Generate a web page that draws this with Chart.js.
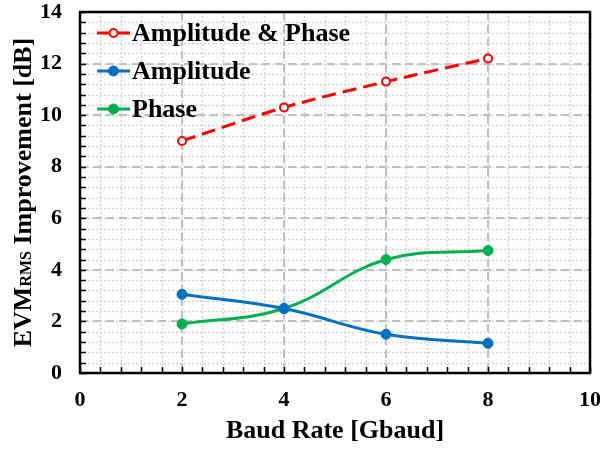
<!DOCTYPE html>
<html>
<head>
<meta charset="utf-8">
<script src="https://cdn.jsdelivr.net/npm/chart.js@4.4.1/dist/chart.umd.min.js"></script>
<style>
  html, body { margin: 0; padding: 0; background: #fff; }
  #wrap { width: 600px; height: 449px; }
</style>
</head>
<body>
<div id="wrap"><canvas id="chart" width="600" height="449"></canvas></div>
<script>
// data
const baudRates = [2, 4, 6, 8];
const ampPhase = [9.0, 10.3, 11.3, 12.2];
const amplitude = [3.05, 2.5, 1.5, 1.15];
const phase = [1.9, 2.5, 4.4, 4.75];
const seriesNames = ['Amplitude & Phase', 'Amplitude', 'Phase'];
const xRange = [0, 10];
const yRange = [0, 14];
const majorStep = 2;
const minorStep = 0.4;

const FONT = '"Liberation Serif", "Times New Roman", serif';

function pts(ys) {
  return baudRates.map((x, i) => ({ x: x, y: ys[i] }));
}

// minor dotted grid, under everything else
const minorGrid = {
  id: 'minorGrid',
  beforeDraw(chart) {
    const { ctx, chartArea: a, scales: { x, y } } = chart;
    ctx.save();
    ctx.strokeStyle = '#d4d4d4';
    ctx.lineWidth = 1.5;
    ctx.setLineDash([2, 2]);
    for (let v = xRange[0]; v <= xRange[1] + 1e-9; v += minorStep) {
      const px = Math.round(x.getPixelForValue(v)) + 0.5;
      ctx.beginPath(); ctx.moveTo(px, a.top); ctx.lineTo(px, a.bottom); ctx.stroke();
    }
    for (let v = yRange[0]; v <= yRange[1] + 1e-9; v += minorStep) {
      const py = Math.round(y.getPixelForValue(v)) + 0.5;
      ctx.beginPath(); ctx.moveTo(a.left, py); ctx.lineTo(a.right, py); ctx.stroke();
    }
    ctx.restore();
  }
};

// frame, inside tick marks, legend and the y title with subscript
const frameAndLegend = {
  id: 'frameAndLegend',
  afterDraw(chart) {
    const { ctx, chartArea: a, scales: { x, y } } = chart;
    ctx.save();
    ctx.strokeStyle = '#000';
    ctx.setLineDash([]);
    ctx.lineWidth = 1.5;
    for (let v = xRange[0]; v <= xRange[1] + 1e-9; v += minorStep) {
      const px = Math.round(x.getPixelForValue(v)) + 0.5;
      ctx.beginPath(); ctx.moveTo(px, a.bottom); ctx.lineTo(px, a.bottom - 6); ctx.stroke();
    }
    for (let v = yRange[0]; v <= yRange[1] + 1e-9; v += minorStep) {
      const py = Math.round(y.getPixelForValue(v)) + 0.5;
      ctx.beginPath(); ctx.moveTo(a.left, py); ctx.lineTo(a.left + 6, py); ctx.stroke();
    }
    ctx.lineWidth = 2.5;
    ctx.strokeRect(a.left, a.top, a.right - a.left, a.bottom - a.top);

    // legend inside the plot
    chart.data.datasets.forEach((ds, i) => {
      const cy = a.top + 21 + i * 38;
      const x0 = a.left + 17, x1 = a.left + 50;
      ctx.strokeStyle = ds.borderColor;
      ctx.lineWidth = ds.borderWidth;
      ctx.setLineDash(ds.borderDash || []);
      ctx.beginPath(); ctx.moveTo(x0, cy); ctx.lineTo(x1, cy); ctx.stroke();
      ctx.setLineDash([]);
      ctx.beginPath();
      ctx.arc((x0 + x1) / 2, cy, ds.pointRadius, 0, Math.PI * 2);
      ctx.fillStyle = ds.pointBackgroundColor;
      ctx.fill();
      ctx.lineWidth = ds.pointBorderWidth;
      ctx.strokeStyle = ds.pointBorderColor;
      ctx.stroke();
      ctx.fillStyle = '#000';
      ctx.font = 'bold 26px ' + FONT;
      ctx.textBaseline = 'middle';
      ctx.textAlign = 'left';
      ctx.fillText(ds.label, x1 + 2, cy + 1);
    });

    // y axis title: EVM + small RMS + rest
    const parts = [
      { t: 'EVM', f: 'bold 26px ' + FONT },
      { t: 'RMS', f: 'bold 16px ' + FONT },
      { t: ' Improvement [dB]', f: 'bold 26px ' + FONT }
    ];
    let total = 0;
    parts.forEach(p => { ctx.font = p.f; p.w = ctx.measureText(p.t).width; total += p.w; });
    ctx.translate(22, (a.top + a.bottom) / 2);
    ctx.rotate(-Math.PI / 2);
    ctx.fillStyle = '#000';
    ctx.textBaseline = 'alphabetic';
    ctx.textAlign = 'left';
    let cx = -total / 2;
    parts.forEach(p => { ctx.font = p.f; ctx.fillText(p.t, cx, 9); cx += p.w; });
    ctx.restore();
  }
};

new Chart(document.getElementById('chart'), {
  type: 'scatter',
  data: {
    datasets: [{
      label: seriesNames[0],
      data: pts(ampPhase),
      showLine: true,
      borderColor: '#ff0000',
      borderWidth: 3,
      borderDash: [14, 7],
      tension: 0.3,
      pointRadius: 4,
      pointBorderWidth: 2,
      pointBorderColor: '#ff0000',
      pointBackgroundColor: '#ffffff'
    }, {
      label: seriesNames[1],
      data: pts(amplitude),
      showLine: true,
      borderColor: '#0070c0',
      borderWidth: 3,
      tension: 0.4,
      pointRadius: 5,
      pointBorderWidth: 1,
      pointBorderColor: '#0070c0',
      pointBackgroundColor: '#0070c0'
    }, {
      label: seriesNames[2],
      data: pts(phase),
      showLine: true,
      borderColor: '#00b050',
      borderWidth: 3,
      tension: 0.4,
      pointRadius: 5,
      pointBorderWidth: 1,
      pointBorderColor: '#00b050',
      pointBackgroundColor: '#00b050'
    }]
  },
  options: {
    responsive: false,
    animation: false,
    devicePixelRatio: 1,
    layout: { padding: { top: 12, right: 10, left: 0, bottom: 0 } },
    plugins: { legend: { display: false }, tooltip: { enabled: false } },
    scales: {
      x: {
        type: 'linear',
        min: xRange[0], max: xRange[1],
        afterFit(s) { s.height = 76; s.paddingLeft = 0; s.paddingRight = 0; },
        ticks: { stepSize: majorStep, color: '#000', padding: 14, font: { family: FONT, size: 22, weight: 'bold' } },
        grid: { color: '#bfbfbf', lineWidth: 2, drawTicks: false },
        border: { display: false, dash: [8, 5] },
        title: {
          display: true,
          text: 'Baud Rate [Gbaud]',
          color: '#000',
          padding: { top: 0, bottom: 2 },
          font: { family: FONT, size: 26, weight: 'bold' }
        }
      },
      y: {
        min: yRange[0], max: yRange[1],
        afterFit(s) { s.width = 80; s.paddingTop = 0; s.paddingBottom = 0; },
        ticks: { stepSize: majorStep, color: '#000', padding: 18, font: { family: FONT, size: 22, weight: 'bold' } },
        grid: { color: '#bfbfbf', lineWidth: 2, drawTicks: false },
        border: { display: false, dash: [8, 5] }
      }
    }
  },
  plugins: [minorGrid, frameAndLegend]
});
</script>
</body>
</html>
